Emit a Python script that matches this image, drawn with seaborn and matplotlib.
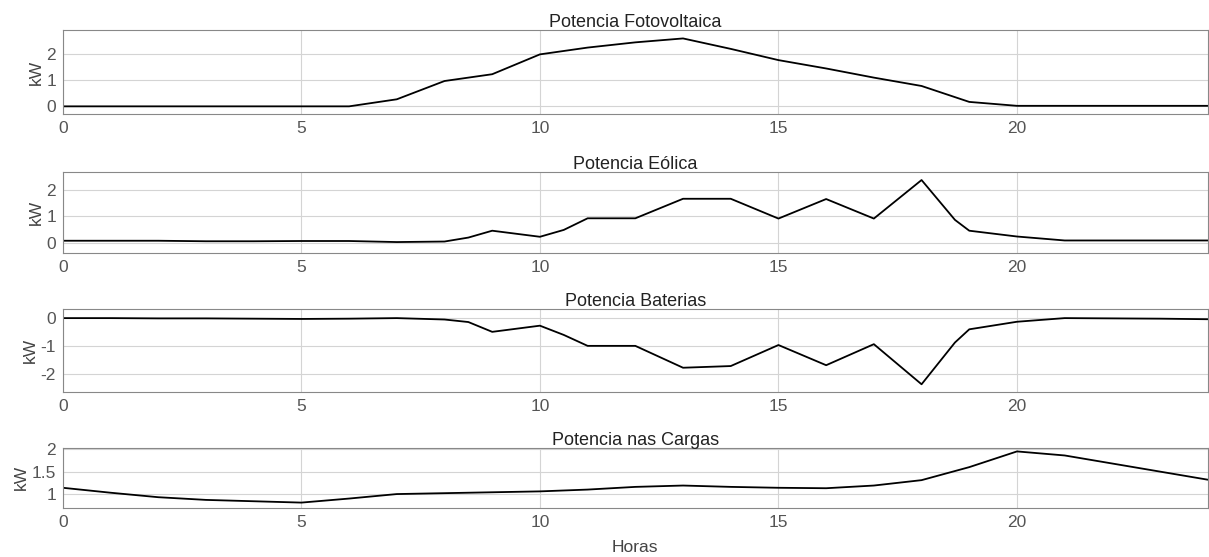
import pandas as pd
import matplotlib
matplotlib.use("Agg")
import matplotlib.pyplot as plt
import seaborn as sns

# horas e potencias (kW)
horas_pv = list(range(0, 25))
pot_pv = [0, 0, 0, 0, 0, 0, 0, 0.27, 0.97, 1.23, 1.99, 2.25, 2.45, 2.6, 2.2,
          1.77, 1.45, 1.1, 0.78, 0.17, 0.02, 0.02, 0.02, 0.02, 0.02]

horas_eol = [0, 1, 2, 3, 4, 5, 6, 7, 8, 8.5, 9, 10, 10.5, 11, 12, 13, 14, 15,
             16, 17, 18, 18.7, 19, 20, 21, 22, 23, 24]
pot_eol = [0.08, 0.08, 0.08, 0.06, 0.06, 0.07, 0.07, 0.03, 0.05, 0.2, 0.46,
           0.23, 0.49, 0.93, 0.93, 1.67, 1.67, 0.92, 1.66, 0.92, 2.38, 0.87,
           0.46, 0.24, 0.09, 0.09, 0.09, 0.09]

horas_bat = horas_eol
pot_bat = [0, 0, -0.01, -0.01, -0.02, -0.03, -0.02, 0, -0.05, -0.14, -0.49,
           -0.27, -0.6, -0.99, -0.99, -1.77, -1.71, -0.96, -1.68, -0.93, -2.36,
           -0.87, -0.4, -0.13, 0, -0.01, -0.02, -0.04]

horas_carga = list(range(0, 25))
pot_carga = [1.14, 1.03, 0.93, 0.87, 0.84, 0.81, 0.9, 1.0, 1.02, 1.04, 1.06,
             1.1, 1.16, 1.19, 1.16, 1.14, 1.13, 1.19, 1.31, 1.6, 1.95, 1.86,
             1.68, 1.5, 1.32]

titulos = ["Potencia Fotovoltaica", "Potencia Eólica", "Potencia Baterias",
           "Potencia nas Cargas"]

sns.set_theme(style="whitegrid")
plt.rcParams["font.family"] = ["Liberation Sans", "DejaVu Sans"]

fig = plt.figure(figsize=(12.09, 5.57), dpi=100)

# [left, bottom, width, height] de cada painel
caixas = [
    [0.052, 0.795, 0.947, 0.151],
    [0.052, 0.546, 0.947, 0.145],
    [0.052, 0.296, 0.947, 0.149],
    [0.052, 0.088, 0.947, 0.108],
]
series = [
    (horas_pv, pot_pv, (-0.3, 2.92), [0, 1, 2], ["0", "1", "2"]),
    (horas_eol, pot_eol, (-0.38, 2.68), [0, 1, 2], ["0", "1", "2"]),
    (horas_bat, pot_bat, (-2.64, 0.32), [-2, -1, 0], ["-2", "-1", "0"]),
    (horas_carga, pot_carga, (0.69, 2.03), [1, 1.5, 2], ["1", "1.5", "2"]),
]

for caixa, (x, y, ylim, yt, ytl), titulo in zip(caixas, series, titulos):
    ax = fig.add_axes(caixa)
    df = pd.DataFrame({"Horas": x, "kW": y})
    sns.lineplot(data=df, x="Horas", y="kW", ax=ax, color="black",
                 linewidth=1.3)
    ax.set_xlim(0, 24)
    ax.set_ylim(*ylim)
    ax.set_xticks([0, 5, 10, 15, 20])
    ax.set_yticks(yt)
    ax.set_yticklabels(ytl)
    ax.set_title(titulo, fontsize=13, pad=2, color="#222222")
    ax.set_ylabel("kW", fontsize=12.5, color="#444444", labelpad=2)
    ax.set_xlabel("")
    ax.grid(True, color="#d4d4d4", linewidth=0.8)
    ax.tick_params(axis="both", labelsize=12.5, colors="#555555", length=0,
                   pad=5)
    for s in ax.spines.values():
        s.set_color("#888888")
        s.set_linewidth(0.8)

ax.set_xlabel("Horas", fontsize=12.5, color="#444444", labelpad=7)

fig.savefig("out.png", dpi=100)
